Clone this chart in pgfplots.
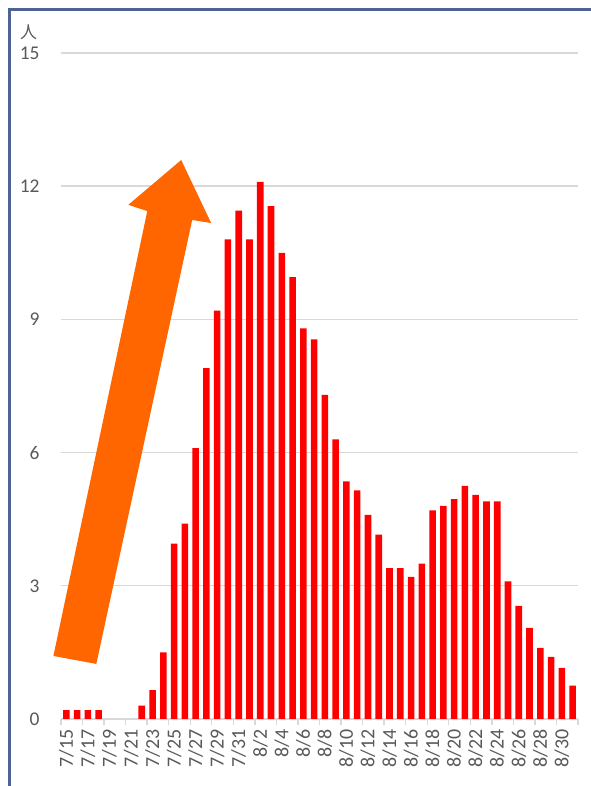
\documentclass[border=0pt]{standalone}
\usepackage{fontspec}
\setmainfont{Carlito}
\newfontfamily\cjk{Noto Sans CJK JP}
\usepackage{pgfplots}
\pgfplotsset{compat=1.18}

\definecolor{barred}{HTML}{FF0000}
\definecolor{arroworange}{HTML}{FF6600}
\definecolor{gridgray}{HTML}{D9D9D9}
\definecolor{labelgray}{HTML}{595959}
\definecolor{framblue}{HTML}{4E6294}

% daily values (index 0 = 7/15, 47 = 8/31); 7/19-7/21 are zero
\pgfplotstableread{
idx val
0 0.2
1 0.2
2 0.2
3 0.2
7 0.3
8 0.65
9 1.5
10 3.95
11 4.4
12 6.1
13 7.9
14 9.2
15 10.8
16 11.45
17 10.8
18 12.1
19 11.55
20 10.5
21 9.95
22 8.8
23 8.55
24 7.3
25 6.3
26 5.35
27 5.15
28 4.6
29 4.15
30 3.4
31 3.4
32 3.2
33 3.5
34 4.7
35 4.8
36 4.95
37 5.25
38 5.05
39 4.9
40 4.9
41 3.1
42 2.55
43 2.05
44 1.6
45 1.4
46 1.15
47 0.75
}\daily

\begin{document}
\begin{tikzpicture}
\path[use as bounding box] (0,0) rectangle (591bp,786bp);
% outer frame (only top and left edges are visible)
\draw[framblue, line width=3bp] (9bp,0) -- (9bp,776.5bp) -- (591bp,776.5bp);
\node[text=labelgray, font=\cjk\fontsize{17}{18}\selectfont] at (28.5bp,754bp) {人};

\begin{axis}[
  at={(61bp,67bp)}, anchor=south west,
  scale only axis, width=517bp, height=666bp,
  xmin=-0.5, xmax=47.5, ymin=0, ymax=15,
  enlargelimits=false, clip=false,
  axis lines*=left, axis line style={draw=none},
  ytick={0,3,...,15},
  ymajorgrids, grid style={draw=gridgray, line width=1.4bp},
  major tick length=0pt,
  xtick={0,2,...,46},
  xticklabels={7/15,7/17,7/19,7/21,7/23,7/25,7/27,7/29,7/31,8/2,8/4,8/6,8/8,8/10,8/12,8/14,8/16,8/18,8/20,8/22,8/24,8/26,8/28,8/30},
  minor xtick={-0.5,1.5,...,47.5},
  tick align=outside, minor tick length=6bp,
  minor tick style={draw=gridgray, line width=1.4bp},
  xticklabel style={rotate=90, anchor=east, text=labelgray, xshift=-7bp,
    font=\fontsize{20}{21}\selectfont},
  yticklabel style={text=labelgray, anchor=east, xshift=-18bp,
    font=\fontsize{19.5}{20}\selectfont},
  /pgf/number format/assume math mode=true,
]
\addplot[ybar, bar width=6.6bp, bar shift=0pt, fill=barred, draw=none]
  table[x=idx, y=val] {\daily};
% big orange arrow
\fill[arroworange] (axis cs:-1.205,1.42) -- (axis cs:2.78,1.24) -- (axis cs:11.68,11.24)
  -- (axis cs:13.44,11.17) -- (axis cs:10.66,12.59) -- (axis cs:5.75,11.58)
  -- (axis cs:7.51,11.44) -- cycle;
\end{axis}
\end{tikzpicture}
\end{document}
